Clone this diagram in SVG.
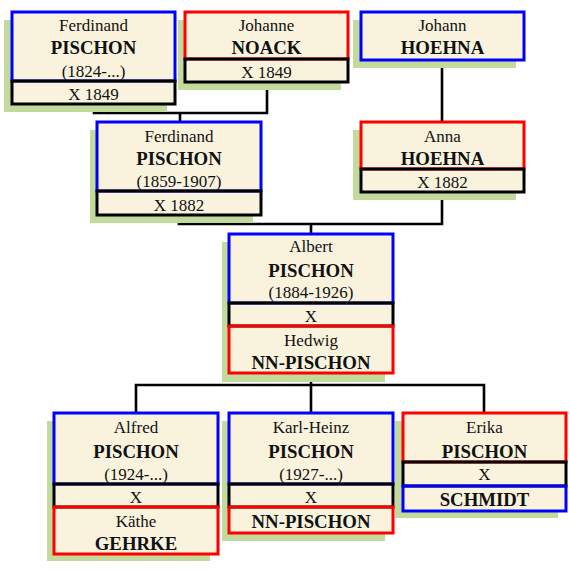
<svg xmlns="http://www.w3.org/2000/svg" width="570" height="570" viewBox="0 0 570 570">
<style>
.sh{fill:#C2DA9C}
.bg{fill:#F9F3DD}
.b{fill:none;stroke:#0000FF;stroke-width:3}
.r{fill:none;stroke:#FF0000;stroke-width:3}
.k{fill:none;stroke:#000;stroke-width:3}
.c{fill:none;stroke:#000;stroke-width:2.6}
text{font-family:"Liberation Serif","Times New Roman",serif;text-anchor:middle;fill:#111}
.n{font-size:17px}
.s{font-size:18.8px;font-weight:bold}
</style>
<rect width="570" height="570" fill="#fff"/>
<g id="connectors">
<path class="c" d="M94,104 V113 H267 V82 M180,113 V122"/>
<path class="c" d="M442,60 V122"/>
<path class="c" d="M179,215 V224 H442 V192 M311,224 V234"/>
<path class="c" d="M311,373 V385 M136,413 V385 H484 V413 M311,385 V413"/>
</g>
<g id="n1">
<rect class="sh" x="4" y="20" width="163" height="92"/>
<rect class="bg" x="12" y="12" width="163" height="92"/>
<rect class="b" x="12" y="12" width="163" height="69"/>
<rect class="k" x="12" y="81" width="163" height="23"/>
<text class="n" x="93.5" y="31">Ferdinand</text>
<text class="s" x="93.5" y="54">PISCHON</text>
<text class="n" x="93.5" y="77">(1824-...)</text>
<text class="n" x="93.5" y="100">X 1849</text>
</g>
<g id="n2">
<rect class="sh" x="178" y="20" width="163" height="70"/>
<rect class="bg" x="185" y="12" width="163" height="70"/>
<rect class="r" x="185" y="12" width="163" height="47"/>
<rect class="k" x="185" y="59" width="163" height="23"/>
<text class="n" x="266.5" y="31">Johanne</text>
<text class="s" x="266.5" y="54">NOACK</text>
<text class="n" x="266.5" y="78">X 1849</text>
</g>
<g id="n3">
<rect class="sh" x="353" y="20" width="163" height="48"/>
<rect class="bg" x="361" y="12" width="163" height="48"/>
<rect class="b" x="361" y="12" width="163" height="48"/>
<text class="n" x="442.5" y="31">Johann</text>
<text class="s" x="442.5" y="54">HOEHNA</text>
</g>
<g id="n4">
<rect class="sh" x="90" y="130" width="163" height="93"/>
<rect class="bg" x="97" y="122" width="164" height="93"/>
<rect class="b" x="97" y="122" width="164" height="69"/>
<rect class="k" x="97" y="191" width="164" height="24"/>
<text class="n" x="179" y="142">Ferdinand</text>
<text class="s" x="179" y="165">PISCHON</text>
<text class="n" x="179" y="187">(1859-1907)</text>
<text class="n" x="179" y="211">X 1882</text>
</g>
<g id="n5">
<rect class="sh" x="353" y="130" width="163" height="70"/>
<rect class="bg" x="361" y="122" width="163" height="70"/>
<rect class="r" x="361" y="122" width="163" height="47"/>
<rect class="k" x="361" y="169" width="163" height="23"/>
<text class="n" x="442.5" y="142">Anna</text>
<text class="s" x="442.5" y="165">HOEHNA</text>
<text class="n" x="442.5" y="188">X 1882</text>
</g>
<g id="n6">
<rect class="sh" x="222" y="242" width="163" height="140"/>
<rect class="bg" x="229" y="234" width="164" height="139"/>
<rect class="b" x="229" y="234" width="164" height="69"/>
<rect class="k" x="229" y="303" width="164" height="23"/>
<rect class="r" x="229" y="326" width="164" height="47"/>
<text class="n" x="311" y="252">Albert</text>
<text class="s" x="311" y="277">PISCHON</text>
<text class="n" x="311" y="298">(1884-1926)</text>
<text class="n" x="311" y="322">X</text>
<text class="n" x="311" y="346">Hedwig</text>
<text class="s" x="311" y="369">NN-PISCHON</text>
</g>
<g id="n7">
<rect class="sh" x="47" y="421" width="163" height="140"/>
<rect class="bg" x="54" y="413" width="164" height="141"/>
<rect class="b" x="54" y="413" width="164" height="71"/>
<rect class="k" x="54" y="484" width="164" height="23"/>
<rect class="r" x="54" y="507" width="164" height="47"/>
<text class="n" x="136" y="433">Alfred</text>
<text class="s" x="136" y="458">PISCHON</text>
<text class="n" x="136" y="480">(1924-...)</text>
<text class="n" x="136" y="503">X</text>
<text class="n" x="136" y="527">Käthe</text>
<text class="s" x="136" y="550">GEHRKE</text>
</g>
<g id="n8">
<rect class="sh" x="222" y="421" width="163" height="120"/>
<rect class="bg" x="229" y="413" width="164" height="120"/>
<rect class="b" x="229" y="413" width="164" height="71"/>
<rect class="k" x="229" y="484" width="164" height="23"/>
<rect class="r" x="229" y="507" width="164" height="26"/>
<text class="n" x="311" y="433">Karl-Heinz</text>
<text class="s" x="311" y="458">PISCHON</text>
<text class="n" x="311" y="480">(1927-...)</text>
<text class="n" x="311" y="503">X</text>
<text class="s" x="311" y="528">NN-PISCHON</text>
</g>
<g id="n9">
<rect class="sh" x="395" y="421" width="163" height="97"/>
<rect class="bg" x="403" y="413" width="163" height="98"/>
<rect class="r" x="403" y="413" width="163" height="49"/>
<rect class="k" x="403" y="462" width="163" height="24"/>
<rect class="b" x="403" y="486" width="163" height="25"/>
<text class="n" x="484.5" y="433">Erika</text>
<text class="s" x="484.5" y="458">PISCHON</text>
<text class="n" x="484.5" y="480">X</text>
<text class="s" x="484.5" y="506">SCHMIDT</text>
</g>
</svg>
